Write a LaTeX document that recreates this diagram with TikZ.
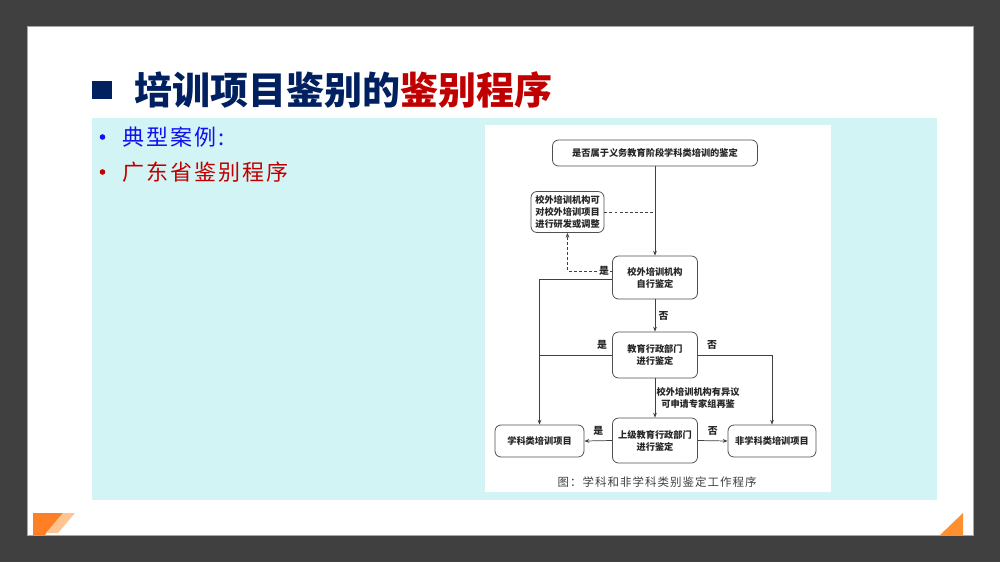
\documentclass[tikz,border=0pt]{standalone}
\usepackage{fontspec}
\setmainfont{Noto Sans CJK SC}
\usetikzlibrary{arrows.meta,calc}
\definecolor{navy}{HTML}{002060}
\definecolor{darkred}{HTML}{C00000}
\definecolor{bulblue}{HTML}{1010F0}
\definecolor{panelcyan}{HTML}{D3F4F4}
\definecolor{bgdark}{HTML}{404040}
\definecolor{orangeA}{HTML}{FF7F27}
\definecolor{orangeB}{HTML}{FFC48F}
\definecolor{orangeC}{HTML}{FF9030}
\definecolor{boxline}{HTML}{505050}
\begin{document}
\begin{tikzpicture}[x=0.75pt,y=-0.75pt,
  fbox/.style={draw=boxline, line width=0.6pt, rounded corners=4.5pt, fill=white,
    inner sep=0pt, align=center, font=\fontsize{6.9}{9}\selectfont\bfseries, text=black!85},
  lbl/.style={font=\fontsize{7.4}{8}\selectfont\bfseries, text=black!85, inner sep=1pt},
  conn/.style={draw=black!75, line width=0.55pt},
  arr/.style={conn, -{Stealth[length=3.6pt,width=2.8pt]}},
  dashline/.style={conn, dash pattern=on 2.2pt off 1.6pt},
  dasharr/.style={dashline, -{Stealth[length=3.6pt,width=2.8pt]}}
]
\useasboundingbox (0,0) rectangle (1000,562);
% slide background
\fill[bgdark] (0,0) rectangle (1000,562);
\fill[white] (27,26) rectangle (973,535);
\draw[black!35, line width=0.4pt] (27,26) rectangle (973,535);
% corner decorations
\fill[orangeA] (33,513) -- (63,513) -- (45,535) -- (33,535) -- cycle;
\fill[orangeB] (63,513) -- (75,513) -- (58,533) -- (46,533) -- cycle;
\fill[orangeC] (963,513) -- (963,535) -- (940,535) -- cycle;
% title
\fill[navy] (92,81) rectangle (112,99);
\node[anchor=west, inner sep=0pt, font=\fontsize{28.5}{30}\selectfont\bfseries] (title) at (134,89.5)
  {\textcolor{navy}{培训项目鉴别的}\textcolor{darkred}{鉴别程序}};
% panels
\fill[panelcyan] (92,118) rectangle (937,500);
\fill[white] (485,125) rectangle (831,492);
% bullets
\fill[bulblue] (102.5,137) circle (2.8);
\node[anchor=west, inner sep=0pt, text=bulblue, font=\fontsize{16.5}{18}\selectfont\addfontfeature{LetterSpace=9}] (b1) at (122,137) {典型案例:};
\fill[darkred] (102.5,172) circle (2.8);
\node[anchor=west, inner sep=0pt, text=darkred, font=\fontsize{16.5}{18}\selectfont\addfontfeature{LetterSpace=9}] (b2t) at (122,172) {广东省鉴别程序};
% flowchart nodes
\node[fbox, minimum width=153.75pt, minimum height=19.5pt] (top) at (655,153) {是否属于义务教育阶段学科类培训的鉴定};
\node[fbox, minimum width=54.75pt, minimum height=30.75pt] (lb) at (567.5,212) {校外培训机构可\\对校外培训项目\\进行研发或调整};
\node[fbox, minimum width=63.75pt, minimum height=32.25pt] (s1) at (655,277.5) {校外培训机构\\自行鉴定};
\node[fbox, minimum width=63.75pt, minimum height=34.5pt] (s2) at (655,355) {教育行政部门\\进行鉴定};
\node[fbox, minimum width=63.75pt, minimum height=33.75pt] (s3) at (655,440.5) {上级教育行政部门\\进行鉴定};
\node[fbox, minimum width=66.75pt, minimum height=24pt] (xk) at (539.5,441) {学科类培训项目};
\node[fbox, minimum width=66pt, minimum height=24pt] (fxk) at (772,441) {非学科类培训项目};
% connectors
\draw[arr] (top.south) -- (s1.north);
\draw[dashline] (lb.east) -- (lb.east -| s1.north);
\draw[dasharr] ($(s1.west)+(0,-6.5)$) -| (lb.south)
  node[lbl, fill=white, pos=0.09] {是};
\draw[arr] ($(s1.west)+(0,1.5)$) -| (xk.north);
\draw[arr] (s1.south) -- (s2.north) node[lbl, midway, right, xshift=1.5pt] {否};
\draw[conn] (s2.west) -- (s2.west -| xk.north) node[lbl, pos=0.14, above, yshift=3pt] {是};
\draw[arr] (s2.east) -| (fxk.north) node[lbl, pos=0.095, above, yshift=3pt] {否};
\draw[arr] (s2.south) -- (s3.north)
  node[lbl, midway, right, xshift=0pt, align=center, font=\fontsize{6.9}{9}\selectfont\bfseries] {校外培训机构有异议\\可申请专家组再鉴};
\draw[arr] (s3.west) -- (xk.east) node[lbl, midway, above, yshift=3pt, xshift=0pt] {是};
\draw[arr] (s3.east) -- (fxk.west) node[lbl, midway, above, yshift=3pt] {否};
% caption
\node[inner sep=0pt, text=black!75, font=\fontsize{8.6}{10}\selectfont\addfontfeature{LetterSpace=9}] (cap) at (657,482) {图：学科和非学科类别鉴定工作程序};
\end{tikzpicture}
\end{document}
